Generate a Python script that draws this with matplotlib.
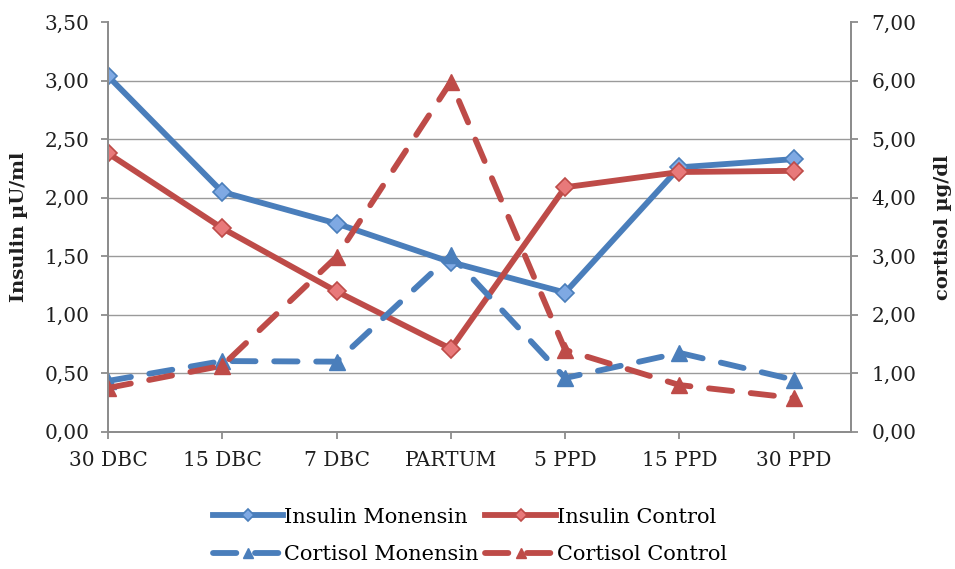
import matplotlib.pyplot as plt
from matplotlib.ticker import FuncFormatter, MultipleLocator

# data
periods = ['30 DBC', '15 DBC', '7 DBC', 'PARTUM', '5 PPD', '15 PPD', '30 PPD']
insulin_monensin = [3.04, 2.05, 1.78, 1.45, 1.19, 2.26, 2.33]
insulin_control = [2.38, 1.74, 1.20, 0.71, 2.09, 2.22, 2.23]
cortisol_monensin = [0.87, 1.21, 1.20, 3.02, 0.92, 1.35, 0.89]
cortisol_control = [0.75, 1.13, 2.99, 5.98, 1.40, 0.80, 0.58]

blue = '#4a7ebb'
red = '#be4b48'
blue_fill = '#7fa9e3'
red_fill = '#e8797a'
grey = '#8c8c8c'
txt = '#1f1f1f'

plt.rcParams['font.family'] = 'DejaVu Serif'

fig = plt.figure(figsize=(9.55, 5.69), dpi=100)
ax = fig.add_axes([0.113, 0.241, 0.778, 0.720])
ax2 = ax.twinx()

x = list(range(len(periods)))

l1, = ax.plot(x, insulin_monensin, color=blue, lw=4.2, marker='D', ms=9,
              mfc=blue_fill, mec=blue, mew=1.2, solid_joinstyle='round',
              label='Insulin Monensin')
l2, = ax.plot(x, insulin_control, color=red, lw=4.2, marker='D', ms=9,
              mfc=red_fill, mec=red, mew=1.2, solid_joinstyle='round',
              label='Insulin Control')
l3, = ax2.plot(x, cortisol_monensin, color=blue, lw=4.2, marker='^', ms=12,
               mfc=blue, mec=blue, dashes=(4.0, 3.2), dash_capstyle='round',
               label='Cortisol Monensin')
l4, = ax2.plot(x, cortisol_control, color=red, lw=4.2, marker='^', ms=12,
               mfc=red, mec=red, dashes=(4.0, 3.2), dash_capstyle='round',
               label='Cortisol Control')

ax.set_xlim(0, 6.5)
ax.set_ylim(0, 3.5)
ax2.set_ylim(0, 7)
ax.yaxis.set_major_locator(MultipleLocator(0.5))
ax2.yaxis.set_major_locator(MultipleLocator(1))
comma = FuncFormatter(lambda v, p: f'{v:.2f}'.replace('.', ','))
ax.yaxis.set_major_formatter(comma)
ax2.yaxis.set_major_formatter(comma)

ax.set_xticks(x)
ax.set_xticklabels(periods)

# gridlines (not at the top)
for v in [0.5, 1.0, 1.5, 2.0, 2.5, 3.0]:
    ax.axhline(v, color='#9a9a9a', lw=1.0, zorder=0)

for a in (ax, ax2):
    a.spines['top'].set_visible(False)
    for s in ('left', 'right', 'bottom'):
        a.spines[s].set_color(grey)
        a.spines[s].set_linewidth(1.3)
    a.tick_params(labelcolor=txt, color=grey, labelsize=14.5, length=5, width=1.3,
                  direction='out')
ax.tick_params(axis='x', pad=9)
ax.tick_params(axis='y', pad=8)
ax2.tick_params(axis='y', pad=10)

ax.set_ylabel('Insulin µU/ml', fontsize=14, fontweight='bold', color=txt)
ax2.set_ylabel('cortisol µg/dl', fontsize=14, fontweight='bold', color=txt)
ax.yaxis.set_label_coords(-0.108, 0.5)
ax2.yaxis.set_label_coords(1.112, 0.5)

fig.legend(handles=[l1, l3, l2, l4], ncol=2, loc='center', bbox_to_anchor=(0.492, 0.058),
           frameon=False, fontsize=15, handlelength=3.4, columnspacing=0.3,
           handletextpad=0.05, labelspacing=0.9, markerscale=0.65, borderpad=0.2)

fig.savefig('out.png', dpi=100)
